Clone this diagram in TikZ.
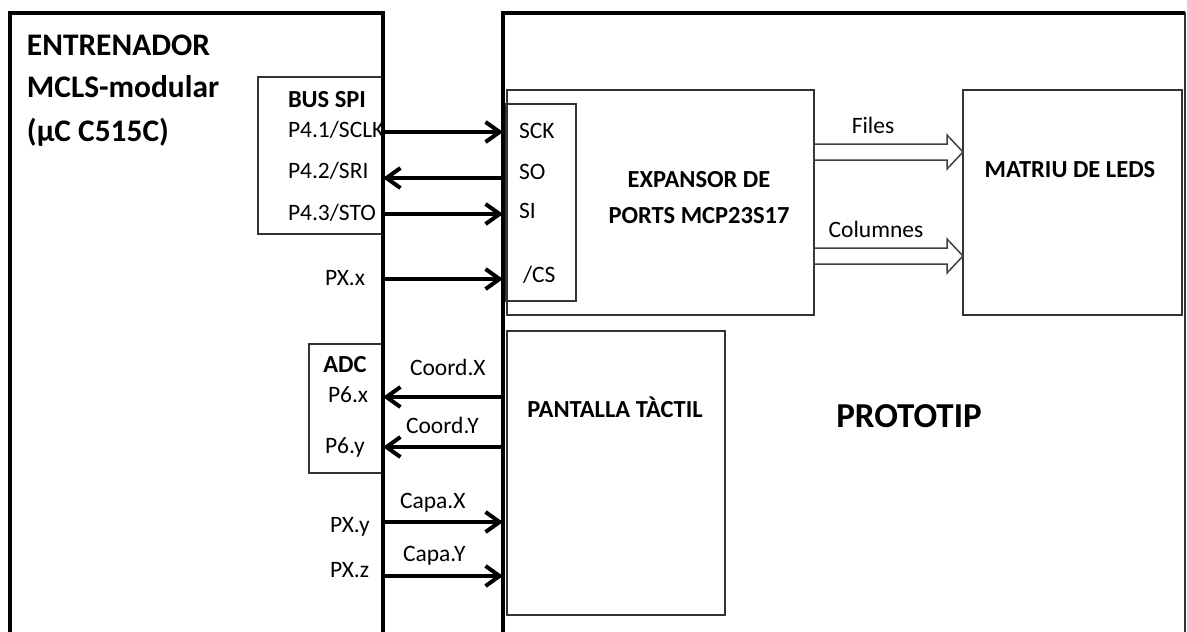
\documentclass[tikz,border=0pt]{standalone}
\usepackage{fontspec}
\setmainfont{Carlito}
\usetikzlibrary{arrows.meta,calc}

\begin{document}
\begin{tikzpicture}[x=1pt, y=1pt, inner sep=0pt, outer sep=0pt,
				caixa/.style={draw=black!80, line width=1.5pt, anchor=north west},
				gran/.style={draw=black, line width=4pt, anchor=north west},
				fletxa/.style={line width=4pt, -{Straight Barb[length=14pt,width=20pt]}},
				buit/.style={draw=black!75, line width=1.5pt, fill=white},
				etq/.style={anchor=base west, font=\fontsize{23.5}{28}\selectfont},
				negreta/.style={anchor=base, font=\bfseries\fontsize{24.5}{30}\selectfont}
				]
				\useasboundingbox (0,0) rectangle (1187,-632);
				\clip (0,0) rectangle (1187,-632);
				\node[caixa, minimum width=125, minimum height=157] (busspi) at (258,-77) {};
				\node[caixa, minimum width=71, minimum height=197] (pinsspi) at (505,-104) {};
				\node[caixa, minimum width=307, minimum height=225] (expansor) at (507,-90) {};
				\node[caixa, minimum width=219, minimum height=225] (matriu) at (963,-90) {};
				\node[caixa, minimum width=218, minimum height=284] (pantalla) at (507,-331) {};
				\node[caixa, minimum width=73, minimum height=129] (adc) at (309,-344) {};
				\node[gran, minimum width=373, minimum height=660] (entrenador) at (10,-13) {};
				\node[caixa, minimum width=682, minimum height=660] (prototip) at (503,-13) {};
				\draw[line width=4pt] (prototip.south west) -- (prototip.north west) -- (prototip.north east);
				\foreach \n/\t/\y in {nom1/ENTRENADOR/55, nom2/MCLS-modular/97, nom3/(µC C515C)/141}
					\node[anchor=base west, font=\bfseries\fontsize{31.4}{36}\selectfont] (\n) at (27,-\y) {\t};
				\node[negreta, anchor=base west] (tbus) at (288,-107) {BUS SPI};
				\node[etq] (p41) at (288,-137) {P4.1/SCLK};
				\node[etq] (p42) at (288,-178) {P4.2/SRI};
				\node[etq] (p43) at (288,-220) {P4.3/STO};
				\node[etq] (pxx) at (325,-285) {PX.x};
				\node[etq] (sck) at (519,-138) {SCK};
				\node[etq] (so) at (519,-179) {SO};
				\node[etq] (si) at (519,-218) {SI};
				\node[etq] (cs) at (523,-282) {/CS};
				\node[negreta] (texp1) at (699,-187) {EXPANSOR DE};
				\node[negreta] (texp2) at (699,-223) {PORTS MCP23S17};
				\node[negreta] (tmat) at (1070,-177) {MATRIU DE LEDS};
				\node[etq, anchor=base] (files) at (873,-133) {Files};
				\node[etq, anchor=base] (columnes) at (876,-237) {Columnes};
				\node[negreta] (tpan) at (615,-417) {PANTALLA TÀCTIL};
				\node[negreta, font=\bfseries\fontsize{35}{40}\selectfont] (tprot) at (909,-427) {PROTOTIP};
				\node[negreta] (tadc) at (345,-372) {ADC};
				\node[etq] (p6x) at (328,-402) {P6.x};
				\node[etq] (p6y) at (325,-453) {P6.y};
				\node[etq] (coordx) at (410,-375) {Coord.X};
				\node[etq] (coordy) at (406,-433) {Coord.Y};
				\node[etq] (capax) at (400,-508) {Capa.X};
				\node[etq] (capay) at (403,-561) {Capa.Y};
				\node[etq] (pxy) at (330,-532) {PX.y};
				\node[etq] (pxz) at (330,-577) {PX.z};
				\foreach \y/\a/\b in {132/entrenador.east/prototip.west, 178/prototip.west/entrenador.east,
						214/entrenador.east/prototip.west, 279/entrenador.east/prototip.west,
						397/prototip.west/entrenador.east, 447/prototip.west/entrenador.east,
						522/entrenador.east/prototip.west, 576/entrenador.east/prototip.west}
					\draw[fletxa] (\a |- 0,-\y) -- (\b |- 0,-\y);
				\coordinate (fil) at (expansor.east |- 0,-152);
				\coordinate (col) at (expansor.east |- 0,-256);
				\foreach \c in {fil,col}
					\draw[buit] ($(\c)+(0,8)$) -- ($(matriu.west |- \c)+(-16,8)$) -- ++(0,9) -- (matriu.west |- \c)
						-- ++(-16,-17) -- ++(0,9) -- ($(\c)+(0,-8)$) -- cycle;
			\end{tikzpicture}
\end{document}
